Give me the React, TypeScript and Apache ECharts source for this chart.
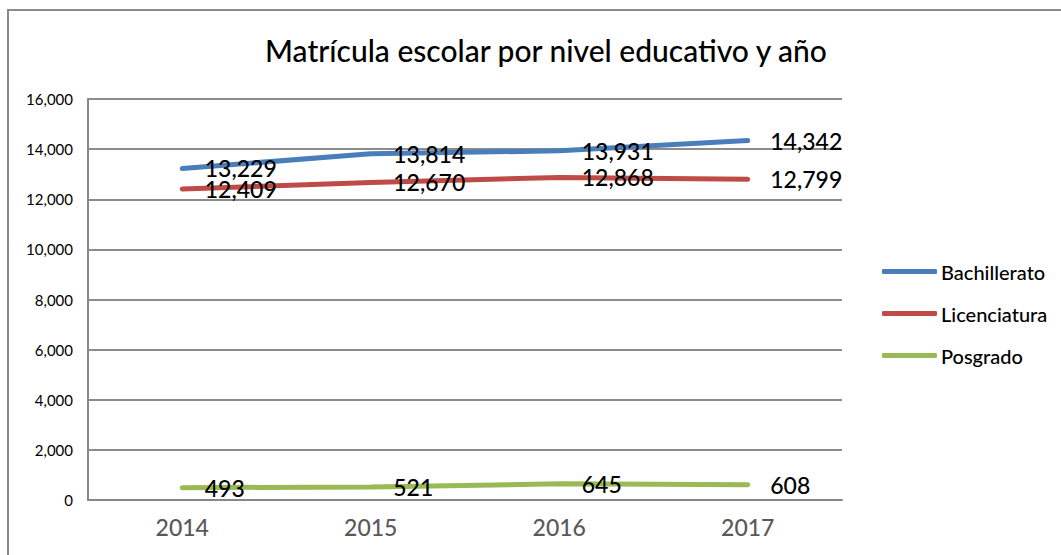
import React, { useEffect, useRef } from "react";
import * as echarts from "echarts";

const years = ["2014", "2015", "2016", "2017"];
const bachillerato = [13229, 13814, 13931, 14342];
const licenciatura = [12409, 12670, 12868, 12799];
const posgrado = [493, 521, 645, 608];
const seriesNames = ["Bachillerato", "Licenciatura", "Posgrado"];
const colors = ["#4A7EBB", "#BE4B48", "#98B954"];
const titleText = "Matrícula escolar por nivel educativo y año";

const FONT = "Lato, 'Noto Sans', sans-serif";

export default function App() {
  const ref = useRef<HTMLDivElement>(null);
  useEffect(() => {
    document.body.style.margin = "0";
    const chart = echarts.init(ref.current!, null, { renderer: "svg" });
    const data = [bachillerato, licenciatura, posgrado];
    const fmt = (v: number) => v.toLocaleString("en-US");
    chart.setOption({
      animation: false,
      backgroundColor: "#ffffff",
      textStyle: { fontFamily: FONT },
      title: {
        text: titleText,
        left: 541,
        top: 30,
        textAlign: "center",
        textStyle: { fontFamily: FONT, fontSize: 30, fontWeight: 500, color: "#000" },
      },
      legend: {
        orient: "vertical",
        left: 882,
        top: 260,
        padding: 0,
        itemWidth: 55,
        itemHeight: 5,
        itemGap: 19,
        icon: "roundRect",
        textStyle: { fontFamily: FONT, fontSize: 20, fontWeight: 500, color: "#000", lineHeight: 23, padding: [0, 0, 0, -1] },
        data: seriesNames,
      },
      grid: { left: 88, top: 99, right: 219, bottom: 55, containLabel: false },
      xAxis: {
        type: "category",
        data: years,
        boundaryGap: true,
        axisLine: { lineStyle: { color: "#878787", width: 2 } },
        axisTick: { show: false },
        axisLabel: { fontFamily: FONT, fontSize: 23, fontWeight: 500, color: "#595959", margin: 15 },
      },
      yAxis: {
        type: "value",
        min: 0,
        max: 16000,
        interval: 2000,
        axisLine: { show: true, lineStyle: { color: "#878787", width: 2 } },
        axisTick: { show: false },
        splitLine: { lineStyle: { color: "#8c8c8c", width: 2 } },
        axisLabel: {
          fontFamily: FONT,
          fontSize: 15,
          color: "#000",
          margin: 15,
          formatter: (v: number) => fmt(v),
        },
      },
      graphic: [
        {
          type: "polyline",
          shape: { points: [[8, 560], [8, 10], [1070, 10]] },
          style: { stroke: "#8a8a8a", lineWidth: 2, fill: "none" },
          silent: true,
        },
      ],
      series: seriesNames.map((name, i) => ({
        name,
        type: "line",
        data: data[i],
        color: colors[i],
        showSymbol: true,
        symbol: "circle",
        symbolSize: 1,
        itemStyle: { color: colors[i] },
        lineStyle: { width: 5, color: colors[i], cap: "round" },
        label: {
          show: true,
          position: "right",
          distance: 22,
          offset: [0, 0],
          fontFamily: FONT,
          fontSize: 23,
          fontWeight: 500,
          color: "#000",
          formatter: (p: any) => fmt(p.value),
        },
      })),
    });
    return () => chart.dispose();
  }, []);
  return <div ref={ref} style={{ width: 1061, height: 555 }} />;
}
